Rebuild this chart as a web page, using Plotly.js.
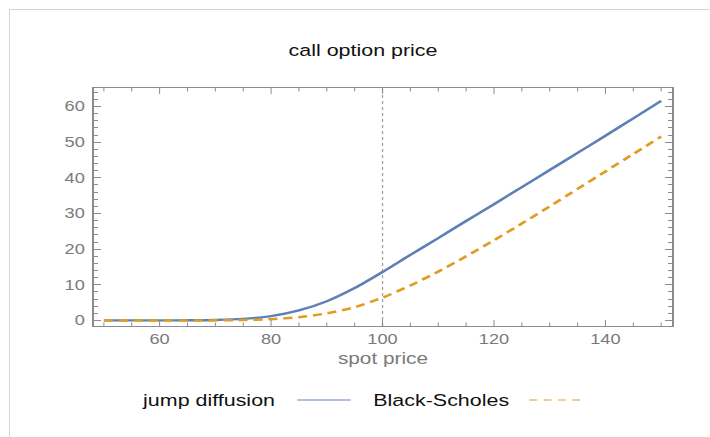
<!DOCTYPE html>
<html>
<head>
<meta charset="utf-8">
<script src="https://cdn.plot.ly/plotly-3.0.1.min.js"></script>
<style>
  html, body { margin: 0; padding: 0; background: #fff; overflow: hidden; }
  #wrap { position: relative; width: 710px; height: 437px; overflow: hidden; }
  #plot { position: absolute; left: 0; top: 0; width: 546px; height: 437px;
          transform: scaleX(1.3004); transform-origin: 0 0; }
  #frame { position: absolute; left: 9px; top: 9px; width: 701px; height: 428px;
           border-left: 1px solid #d4d4d4; border-top: 1px solid #d4d4d4;
           pointer-events: none; box-sizing: border-box; }
</style>
</head>
<body>
<div id="wrap">
  <div id="plot"></div>
  <div id="frame"></div>
</div>
<script>
// Data
const spot = [50, 55, 60, 65, 70, 75, 80, 85, 90, 95, 100, 105, 110, 115, 120, 125, 130, 135, 140, 145, 150];
const jumpDiffusion = [0.02, 0.02, 0.03, 0.06, 0.15, 0.45, 1.2, 2.8, 5.4, 9.1, 13.6, 18.4, 23.1, 27.9, 32.6, 37.4, 42.2, 47.0, 51.8, 56.7, 61.6];
const blackScholes = [0.0, 0.0, 0.0, 0.01, 0.03, 0.1, 0.35, 0.9, 2.0, 3.7, 6.4, 9.8, 13.7, 18.0, 22.5, 27.2, 32.0, 36.9, 41.8, 46.7, 51.6];
const strike = 100;
const seriesNames = ["jump diffusion", "Black-Scholes"];

// The reference is drawn horizontally stretched; the page is drawn narrower and stretched by CSS.
const K = 710 / 546;
const W = 546, H = 437;

const blue = '#5E81B5';
const orange = '#E19C24';
const frameColor = '#8c8c8c';
const labelColor = '#7a7a7a';
const font = 'Liberation Sans, Arial, sans-serif';

const traces = [
  { x: spot, y: jumpDiffusion, type: 'scatter', mode: 'lines', name: seriesNames[0],
    line: { color: blue, width: 2.4, shape: 'spline', smoothing: 0.6 }, showlegend: false },
  { x: spot, y: blackScholes, type: 'scatter', mode: 'lines', name: seriesNames[1],
    line: { color: orange, width: 2.5, dash: '7px,4.5px', shape: 'spline', smoothing: 0.6 }, showlegend: false }
];

const axisCommon = {
  showline: true, linecolor: frameColor, linewidth: 1, mirror: 'ticks',
  ticks: 'inside', tickcolor: frameColor, ticklen: 6, tickwidth: 1,
  showgrid: false, zeroline: false,
  tickfont: { family: font, size: 14, color: labelColor }
};

const legendY = -0.311;

const layout = {
  width: W, height: H,
  margin: { l: 93 / K, r: 38 / K, t: 88, b: 111 },
  paper_bgcolor: '#fff', plot_bgcolor: '#fff',
  title: { text: 'call option price', font: { family: font, size: 16.5, color: '#111' },
           x: 363 / 710, xref: 'container', xanchor: 'center', y: 1 - 50 / 437, yanchor: 'middle' },
  xaxis: Object.assign({}, axisCommon, {
    range: [48.16, 152.0], tick0: 0, dtick: 20,
    minor: { dtick: 5, ticklen: 3.5, tickcolor: frameColor, ticks: 'inside' },
    tickwidth: 1 / K,
    title: { text: 'spot price', font: { family: font, size: 16, color: labelColor }, standoff: 7 }
  }),
  yaxis: Object.assign({}, axisCommon, {
    range: [-1.55, 65.2], tick0: 0, dtick: 10, ticklabelstandoff: 3,
    minor: { dtick: 2, ticklen: 3.5, tickcolor: frameColor, ticks: 'inside' }
  }),
  shapes: [
    { type: 'line', xref: 'x', yref: 'paper', x0: strike, x1: strike, y0: 0, y1: 1,
      line: { color: '#a0a0a0', width: 1, dash: 'dot' }, layer: 'below' },
    { type: 'line', xref: 'paper', yref: 'paper', x0: 0.352, x1: 0.444, y0: legendY, y1: legendY,
      line: { color: blue, width: 1 } },
    { type: 'line', xref: 'paper', yref: 'paper', x0: 0.753, x1: 0.848, y0: legendY, y1: legendY,
      line: { color: orange, width: 1, dash: '6px,5px' } }
  ],
  annotations: [
    { text: seriesNames[0], xref: 'paper', yref: 'paper', x: 0.318, y: legendY,
      xanchor: 'right', yanchor: 'middle', showarrow: false,
      font: { family: font, size: 16.5, color: '#111' } },
    { text: seriesNames[1], xref: 'paper', yref: 'paper', x: 0.478, y: legendY,
      xanchor: 'left', yanchor: 'middle', showarrow: false,
      font: { family: font, size: 16.5, color: '#111' } }
  ]
};

Plotly.newPlot('plot', traces, layout, { displayModeBar: false, staticPlot: true });
</script>
</body>
</html>
